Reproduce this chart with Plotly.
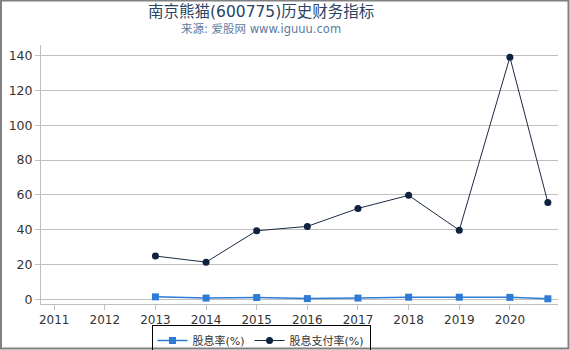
import plotly.graph_objects as go

years = [2013, 2014, 2015, 2016, 2017, 2018, 2019, 2020, 2020.75]
dividend_yield = [1.6, 0.9, 1.2, 0.6, 0.9, 1.4, 1.4, 1.3, 0.5]
payout_ratio = [25.0, 21.5, 39.5, 42.0, 52.3, 59.8, 39.8, 139.0, 55.7]
tick_years = [2011, 2012, 2013, 2014, 2015, 2016, 2017, 2018, 2019, 2020]

W, H = 570, 350
L, R, T, B = 41, 12, 45, 46
pw, ph = W - L - R, H - T - B

def px(x):
    return (x - L) / pw

def py(y):
    return (H - B - y) / ph

font = "DejaVu Sans, Noto Sans CJK SC, sans-serif"

fig = go.Figure()
fig.add_trace(go.Scatter(
    x=years, y=dividend_yield, name="股息率(%)", mode="lines+markers",
    line=dict(color="#2e7bd6", width=1.5),
    marker=dict(symbol="square", size=7, color="#2e7bd6"),
))
fig.add_trace(go.Scatter(
    x=years, y=payout_ratio, name="股息支付率(%)", mode="lines+markers",
    line=dict(color="#1b2b45", width=1),
    marker=dict(symbol="circle", size=7, color="#0f2240"),
))

fig.update_layout(
    width=W, height=H,
    margin=dict(l=L, r=R, t=T, b=B, autoexpand=False),
    paper_bgcolor="white", plot_bgcolor="white",
    font=dict(family=font, size=12, color="#333333"),
    showlegend=True,
    legend=dict(orientation="h", x=px(261), xanchor="center", y=py(325), yanchor="top",
                bordercolor="#000000", borderwidth=1, bgcolor="rgba(0,0,0,0)",
                font=dict(size=11, color="#333333"),
                itemwidth=30, tracegroupgap=0),
    xaxis=dict(range=[2010.74, 2020.95], tickmode="array", tickvals=tick_years,
               ticktext=[str(y) for y in tick_years], showgrid=False, zeroline=False,
               showline=True, linecolor="#c0c0c0", linewidth=1,
               ticks="outside", ticklen=5, tickcolor="#c0c0c0",
               tickfont=dict(size=12, color="#333333")),
    yaxis=dict(range=[-2.5, 146], tickvals=[0, 20, 40, 60, 80, 100, 120, 140],
               showgrid=True, gridcolor="#c0c0c0", gridwidth=1, zeroline=False,
               showline=True, linecolor="#c0c0c0", linewidth=1,
               ticks="outside", ticklen=5, tickcolor="#c0c0c0",
               tickfont=dict(size=12.5, color="#333333")),
    annotations=[
        dict(text="南京熊猫(600775)历史财务指标", xref="paper", yref="paper",
             x=px(261), y=py(12), xanchor="center", yanchor="middle", showarrow=False,
             font=dict(size=15.5, color="#2a4466", family=font)),
        dict(text="来源: 爱股网 www.iguuu.com", xref="paper", yref="paper",
             x=px(261), y=py(29), xanchor="center", yanchor="middle", showarrow=False,
             font=dict(size=11.5, color="#5b7ba3", family=font)),
    ],
    shapes=[
        dict(type="rect", xref="paper", yref="paper",
             x0=px(1), x1=px(568.5), y0=py(348.5), y1=py(0.5),
             line=dict(color="#808080", width=2), layer="above"),
    ],
)

fig.write_html("out.html")
